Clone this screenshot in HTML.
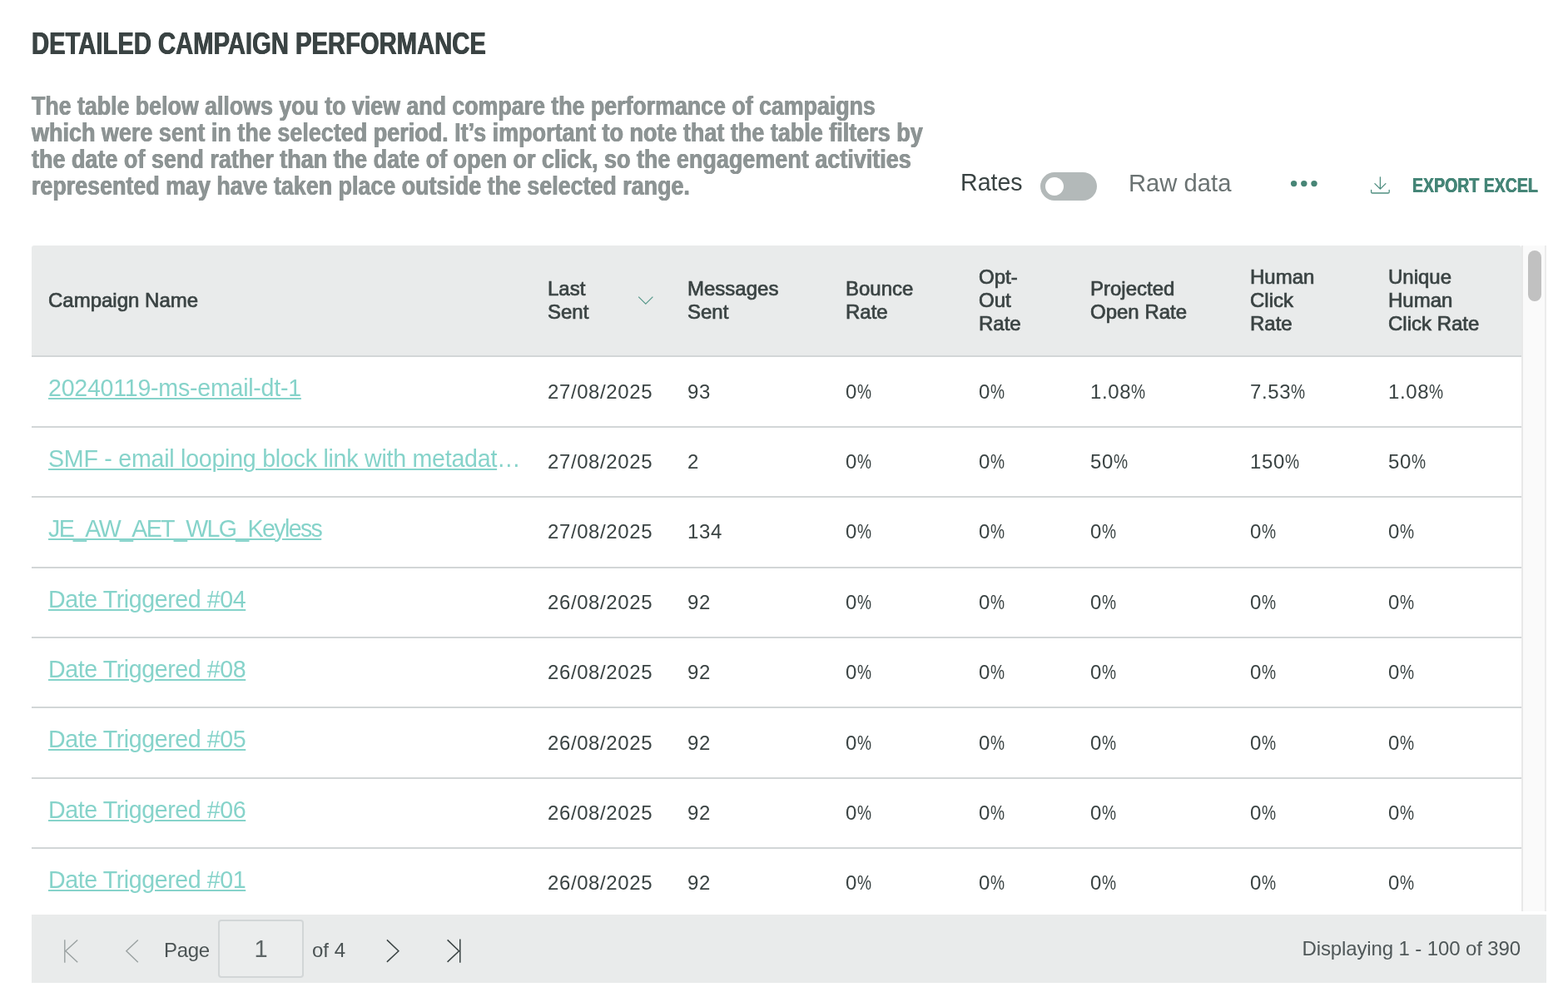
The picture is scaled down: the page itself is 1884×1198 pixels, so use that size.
<!DOCTYPE html>
<html lang="en">
<head>
<meta charset="utf-8">
<title>Detailed Campaign Performance</title>
<style>
html,body{margin:0;padding:0;background:#fff;}
body{width:1884px;height:1198px;position:relative;overflow:hidden;font-family:"Liberation Sans",sans-serif;color:#3a4343;}
.cond{display:inline-block;white-space:nowrap;transform-origin:0 50%;font-weight:700;}
h1{position:absolute;left:38px;top:30px;text-shadow:.5px 0 0 #3a4343,-.5px 0 0 #3a4343;margin:0;font-size:37.5px;line-height:44px;font-weight:700;color:#3a4343;white-space:nowrap;}
h1 .cond{transform:scaleX(.779);}
.intro{position:absolute;left:38px;top:111px;text-shadow:.5px 0 0 #8d9494,-.5px 0 0 #8d9494;margin:0;font-size:32px;line-height:32px;color:#8d9494;font-weight:700;}
.intro .cond{display:block;height:32px;}
.controls{position:absolute;left:0;top:0;}
.lbl{position:absolute;white-space:nowrap;font-size:30px;line-height:34px;transform-origin:0 50%;}
.toggle{position:absolute;left:1250px;top:207px;width:68px;height:34px;border-radius:17px;background:#b3b9b9;}
.toggle i{position:absolute;left:6px;top:6px;width:22px;height:22px;border-radius:50%;background:#fff;}
.dots{position:absolute;left:1550px;top:216px;width:34px;height:10px;}
.export{position:absolute;left:1697px;top:208px;font-size:23px;line-height:30px;color:#458577;text-shadow:.4px 0 0 #458577,-.4px 0 0 #458577;}
.export .cond{transform:scaleX(.849);}
.dl{position:absolute;left:1644px;top:210px;width:30px;height:26px;}

.grid{position:absolute;left:38px;top:295px;width:1790px;height:800px;overflow:hidden;border-radius:3px 3px 0 0;}
table{border-collapse:separate;border-spacing:0;table-layout:fixed;width:1790px;}
th,td{box-sizing:border-box;padding:0 0 0 20px;text-align:left;vertical-align:middle;overflow:hidden;white-space:nowrap;}
th{height:134px;background:#e9ebeb;border-bottom:2px solid #d2d6d7;font-size:24px;line-height:28px;font-weight:400;color:#3a4343;-webkit-text-stroke:.7px #3a4343;white-space:normal;position:relative;}
td{border-bottom:2px solid #d2d6d7;font-size:24px;line-height:30px;color:#3a4343;letter-spacing:.6px;}
tr.h85 td{height:85px;}
tr.h84 td{height:84px;}
tr.up td{padding-bottom:1px;}
tr.lo a{top:-5px;}
td a{display:block;font-size:28.6px;line-height:34px;color:#86d3ca;text-decoration:underline;text-decoration-thickness:2px;text-underline-offset:2px;letter-spacing:-.25px;overflow:hidden;text-overflow:ellipsis;white-space:nowrap;width:568px;position:relative;top:-4px;}
td a.k{letter-spacing:-1.65px;}
td a.d{letter-spacing:-.42px;}
.pc{display:inline-block;transform:scaleX(.8);transform-origin:0 50%;}
.sort{position:absolute;left:127px;top:59px;width:22px;height:14px;}

.vscroll{position:absolute;left:1828px;top:295px;width:30px;height:800px;box-sizing:border-box;background:#fafafa;border-left:2px solid #e8e8e8;border-right:2px solid #ececec;}
.vscroll i{position:absolute;left:6px;top:6px;width:16px;height:61px;border-radius:8px;background:#c1c1c1;}

.pager{position:absolute;left:38px;top:1099px;width:1820px;height:82px;background:#e9ebeb;}
.pager svg{position:absolute;}
.pager .t{position:absolute;white-space:nowrap;font-size:24px;line-height:30px;color:#4b5354;}
.pgbox{position:absolute;left:224px;top:6px;width:103px;height:70px;box-sizing:border-box;border:2px solid #d2d6d7;border-radius:4px;background:#ebeded;text-align:center;font-size:29px;line-height:67px;color:#5d6566;}
</style>
</head>
<body>

<h1><span class="cond">DETAILED CAMPAIGN PERFORMANCE</span></h1>

<p class="intro">
<span class="cond" style="transform:scaleX(.836)">The table below allows you to view and compare the performance of campaigns</span>
<span class="cond" style="transform:scaleX(.843)">which were sent in the selected period. It’s important to note that the table filters by</span>
<span class="cond" style="transform:scaleX(.843)">the date of send rather than the date of open or click, so the engagement activities</span>
<span class="cond" style="transform:scaleX(.839)">represented may have taken place outside the selected range.</span>
</p>

<div class="controls">
  <span class="lbl" style="left:1154px;top:202px;color:#3a4343;transform:scaleX(.952)">Rates</span>
  <span class="toggle"><i></i></span>
  <span class="lbl" style="left:1356px;top:203px;color:#6b7373;transform:scaleX(.974)">Raw data</span>
  <svg class="dots" viewBox="0 0 34 10"><g fill="#478576"><circle cx="4.6" cy="4.6" r="3.7"/><circle cx="16.8" cy="4.6" r="3.7"/><circle cx="29" cy="4.6" r="3.7"/></g></svg>
  <svg class="dl" viewBox="0 0 30 26" fill="none" stroke="#4f8e80" stroke-width="1.3" stroke-linecap="round" stroke-linejoin="round"><path d="M14.4 2.8V17M7.9 10.6l6.5 6.5 6.5-6.5M3.6 18.3v2.4a1.3 1.3 0 0 0 1.3 1.3h19a1.3 1.3 0 0 0 1.3-1.3v-2.4"/></svg>
  <span class="export"><span class="cond">EXPORT EXCEL</span></span>
</div>

<div class="grid">
<table>
<colgroup><col style="width:600px"><col style="width:168px"><col style="width:190px"><col style="width:160px"><col style="width:134px"><col style="width:192px"><col style="width:166px"><col style="width:180px"></colgroup>
<thead>
<tr>
<th>Campaign Name</th>
<th>Last<br>Sent<svg class="sort" viewBox="0 0 22 14" fill="none" stroke="#5b9a8d" stroke-width="1.3"><path d="M2.2 2.6l8.6 8.6 8.6-8.6"/></svg></th>
<th>Messages<br>Sent</th>
<th>Bounce<br>Rate</th>
<th>Opt-<br>Out<br>Rate</th>
<th>Projected<br>Open Rate</th>
<th>Human<br>Click<br>Rate</th>
<th>Unique<br>Human<br>Click Rate</th>
</tr>
</thead>
<tbody>
<tr class="h85 lo"><td><a>20240119-ms-email-dt-1</a></td><td>27/08/2025</td><td>93</td><td>0<span class="pc">%</span></td><td>0<span class="pc">%</span></td><td>1.08<span class="pc">%</span></td><td>7.53<span class="pc">%</span></td><td>1.08<span class="pc">%</span></td></tr>
<tr class="h84"><td><a>SMF - email looping block link with metadata and more</a></td><td>27/08/2025</td><td>2</td><td>0<span class="pc">%</span></td><td>0<span class="pc">%</span></td><td>50<span class="pc">%</span></td><td>150<span class="pc">%</span></td><td>50<span class="pc">%</span></td></tr>
<tr class="h85 up"><td><a class="k">JE_AW_AET_WLG_Keyless</a></td><td>27/08/2025</td><td>134</td><td>0<span class="pc">%</span></td><td>0<span class="pc">%</span></td><td>0<span class="pc">%</span></td><td>0<span class="pc">%</span></td><td>0<span class="pc">%</span></td></tr>
<tr class="h84"><td><a class="d">Date Triggered #04</a></td><td>26/08/2025</td><td>92</td><td>0<span class="pc">%</span></td><td>0<span class="pc">%</span></td><td>0<span class="pc">%</span></td><td>0<span class="pc">%</span></td><td>0<span class="pc">%</span></td></tr>
<tr class="h84"><td><a class="d">Date Triggered #08</a></td><td>26/08/2025</td><td>92</td><td>0<span class="pc">%</span></td><td>0<span class="pc">%</span></td><td>0<span class="pc">%</span></td><td>0<span class="pc">%</span></td><td>0<span class="pc">%</span></td></tr>
<tr class="h85 lo"><td><a class="d">Date Triggered #05</a></td><td>26/08/2025</td><td>92</td><td>0<span class="pc">%</span></td><td>0<span class="pc">%</span></td><td>0<span class="pc">%</span></td><td>0<span class="pc">%</span></td><td>0<span class="pc">%</span></td></tr>
<tr class="h84"><td><a class="d">Date Triggered #06</a></td><td>26/08/2025</td><td>92</td><td>0<span class="pc">%</span></td><td>0<span class="pc">%</span></td><td>0<span class="pc">%</span></td><td>0<span class="pc">%</span></td><td>0<span class="pc">%</span></td></tr>
<tr class="h84"><td><a class="d">Date Triggered #01</a></td><td>26/08/2025</td><td>92</td><td>0<span class="pc">%</span></td><td>0<span class="pc">%</span></td><td>0<span class="pc">%</span></td><td>0<span class="pc">%</span></td><td>0<span class="pc">%</span></td></tr>
</tbody>
</table>
</div>

<div class="vscroll"><i></i></div>

<div class="pager">
  <svg style="left:34px;top:26px" width="26" height="36" viewBox="0 0 26 36" fill="none" stroke="#9aa1a1" stroke-width="1.4"><path d="M5.8 4.2v27.6M21.2 4.4L6.8 17.7l14.4 13.5"/></svg>
  <svg style="left:108px;top:26px" width="26" height="36" viewBox="0 0 26 36" fill="none" stroke="#9aa1a1" stroke-width="1.4"><path d="M19.8 4.4L5.8 17.7l14 13.5"/></svg>
  <span class="t" style="left:159px;top:28px;letter-spacing:-.3px">Page</span>
  <span class="pgbox">1</span>
  <span class="t" style="left:337px;top:28px">of 4</span>
  <svg style="left:420px;top:26px" width="26" height="36" viewBox="0 0 26 36" fill="none" stroke="#3a4343" stroke-width="1.5"><path d="M6.9 4.4l14 13.3-14 13.2"/></svg>
  <svg style="left:494px;top:26px" width="26" height="36" viewBox="0 0 26 36" fill="none" stroke="#3a4343" stroke-width="1.5"><path d="M5.6 4.4l13.9 13.3L5.6 30.9M20.8 3.4v28.3"/></svg>
  <span class="t" style="right:31px;top:26px;color:#4f5758;letter-spacing:-.12px">Displaying 1 - 100 of 390</span>
</div>

</body>
</html>
